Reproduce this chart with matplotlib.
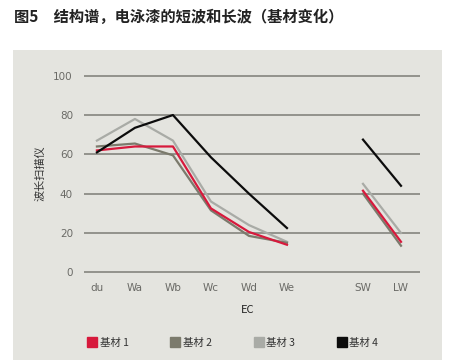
import matplotlib
matplotlib.use("Agg")
import matplotlib.pyplot as plt
from matplotlib.patches import Rectangle
from matplotlib.lines import Line2D

plt.rcParams['font.family'] = ['Noto Sans CJK SC', 'DejaVu Sans']

labels = ["du", "Wa", "Wb", "Wc", "Wd", "We", "SW", "LW"]
pos_short = [0, 1, 2, 3, 4, 5]
pos_long = [7, 8]

s1_short = [62, 64, 64, 32.5, 20.5, 14]
s1_long = [41.5, 15.5]
s2_short = [64, 65.5, 59.5, 31.5, 18.5, 15]
s2_long = [40, 13.5]
s3_short = [67, 78, 67, 36, 24, 15.5]
s3_long = [45, 20]
s4_short = [61, 73.5, 80, 58.5, 40, 22.5]
s4_long = [67.5, 44]

names = ["基材 1", "基材 2", "基材 3", "基材 4"]
colors = ["#d7193c", "#7b7a6c", "#a9aba6", "#0c0c0c"]
shorts = [s3_short, s2_short, s1_short, s4_short]
longs = [s3_long, s2_long, s1_long, s4_long]
order_cols = [colors[2], colors[1], colors[0], colors[3]]

W, H = 449, 363
fig = plt.figure(figsize=(W / 100, H / 100), dpi=100)
bg = "#e4e4df"
fig.patches.append(Rectangle((13 / W, 3 / H), (442 - 13) / W, (313 - 3) / H,
                             transform=fig.transFigure, facecolor=bg,
                             edgecolor="none", zorder=-5))

fig.text(14 / W, 1 - 17 / H, "图5　结构谱，电泳漆的短波和长波（基材变化）",
         fontsize=11, fontweight="bold", color="#222222", va="center")

ax = fig.add_axes([84 / W, (H - 282.1) / H, (420 - 84) / W, (282.1 - 65.9) / H])
ax.set_zorder(2)
ax.set_facecolor("none")
ax.set_xlim(-0.34, 8.5)
ax.set_ylim(-5, 105)
for sp in ax.spines.values():
    sp.set_visible(False)

for yv in range(0, 101, 20):
    ax.axhline(yv, color="#8c8c86", lw=1.3, zorder=1)

for ys, yl, c in zip(shorts, longs, order_cols):
    ax.plot(pos_short, ys, color=c, lw=1.6, zorder=3)
    ax.plot(pos_long, yl, color=c, lw=1.6, zorder=3)

ax.set_yticks(range(0, 101, 20))
ax.set_xticks(pos_short + pos_long)
ax.set_xticklabels(labels)
ax.tick_params(length=0, labelsize=7.5, labelcolor="#6a6a66")
ax.tick_params(axis="y", pad=8)
ax.tick_params(axis="x", pad=0.5)
for t in ax.get_xticklabels() + ax.get_yticklabels():
    t.set_fontfamily("DejaVu Sans")

fig.text(40 / W, 1 - 173 / H, "波长扫描仪", rotation=90, fontsize=8,
         color="#333333", ha="center", va="center")
fig.text(248 / W, 1 - 310 / H, "EC", fontsize=8, color="#222222",
         ha="center", va="center")

handles = [Line2D([], [], marker="s", ls="none", color=c, markersize=7.5)
           for c in colors]
leg = fig.legend(handles, names, loc="center", ncol=4,
                 bbox_to_anchor=(232 / W, 1 - 343 / H), frameon=False,
                 fontsize=7.5, handletextpad=0.1, columnspacing=3.9,
                 handlelength=1.2)
for t in leg.get_texts():
    t.set_color("#333333")

fig.savefig("out.png", dpi=100)
